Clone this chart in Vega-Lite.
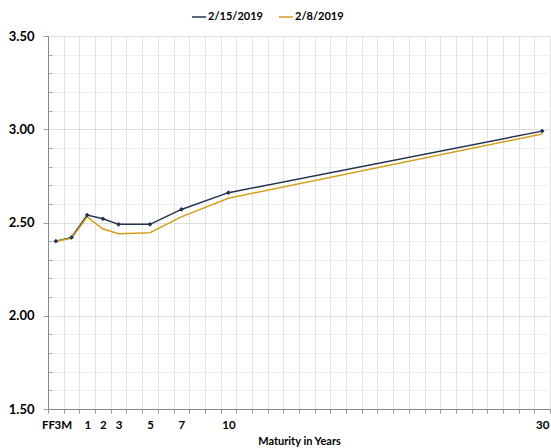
{
  "$schema": "https://vega.github.io/schema/vega-lite/v6.json",
  "width": 502,
  "height": 373,
  "autosize": "none",
  "padding": {"left": 48, "top": 36, "right": 1, "bottom": 39},
  "config": {"view": {"stroke": null}, "font": "Lato"},
  "data": {
    "values": [
      {"tenor": "FF", "m": -1, "date": "2/15/2019", "rate": 2.40},
      {"tenor": "3M", "m": 0, "date": "2/15/2019", "rate": 2.42},
      {"tenor": "1", "m": 1, "date": "2/15/2019", "rate": 2.54},
      {"tenor": "2", "m": 2, "date": "2/15/2019", "rate": 2.52},
      {"tenor": "3", "m": 3, "date": "2/15/2019", "rate": 2.49},
      {"tenor": "5", "m": 5, "date": "2/15/2019", "rate": 2.49},
      {"tenor": "7", "m": 7, "date": "2/15/2019", "rate": 2.57},
      {"tenor": "10", "m": 10, "date": "2/15/2019", "rate": 2.66},
      {"tenor": "30", "m": 30, "date": "2/15/2019", "rate": 2.99},
      {"tenor": "FF", "m": -1, "date": "2/8/2019", "rate": 2.40},
      {"tenor": "3M", "m": 0, "date": "2/8/2019", "rate": 2.415},
      {"tenor": "1", "m": 1, "date": "2/8/2019", "rate": 2.53},
      {"tenor": "2", "m": 2, "date": "2/8/2019", "rate": 2.465},
      {"tenor": "3", "m": 3, "date": "2/8/2019", "rate": 2.44},
      {"tenor": "5", "m": 5, "date": "2/8/2019", "rate": 2.445},
      {"tenor": "7", "m": 7, "date": "2/8/2019", "rate": 2.53},
      {"tenor": "10", "m": 10, "date": "2/8/2019", "rate": 2.63},
      {"tenor": "30", "m": 30, "date": "2/8/2019", "rate": 2.975}
    ]
  },
  "layer": [
    {
      "transform": [{"filter": "datum.date == '2/8/2019'"}],
      "mark": {"type": "point", "opacity": 0},
      "encoding": {
        "x": {
          "field": "m", "type": "quantitative",
          "scale": {"domain": [-1.5, 30.5], "nice": false, "zero": false},
          "axis": {
            "orient": "bottom",
            "values": [-1.5,-0.5,0.5,1.5,2.5,3.5,4.5,5.5,6.5,7.5,8.5,9.5,10.5,11.5,12.5,13.5,14.5,15.5,16.5,17.5,18.5,19.5,20.5,21.5,22.5,23.5,24.5,25.5,26.5,27.5,28.5,29.5,30.5],
            "labels": false, "grid": true, "gridColor": "#e4e4e4", "gridWidth": 1,
            "tickSize": 4, "tickColor": "#999999", "domainColor": "#888888", "title": null
          }
        },
        "y": {
          "field": "rate", "type": "quantitative",
          "scale": {"domain": [1.5, 3.5], "nice": false, "zero": false},
          "axis": {
            "orient": "left",
            "values": [1.6,1.7,1.8,1.9,2.1,2.2,2.3,2.4,2.6,2.7,2.8,2.9,3.1,3.2,3.3,3.4],
            "labels": false, "grid": true, "gridColor": "#efefef",
            "tickSize": -4, "tickColor": "#aaaaaa", "domain": false, "title": null
          }
        }
      }
    },
    {
      "mark": {"type": "line", "strokeWidth": 1.5},
      "encoding": {
        "x": {
          "field": "m", "type": "quantitative",
          "scale": {"domain": [-1.5, 30.5], "nice": false, "zero": false},
          "axis": {
            "orient": "bottom",
            "values": [-1.08, 0, 1, 2, 3, 5, 7, 10, 30],
            "labelExpr": "datum.value < -1 ? 'FF' : datum.value == 0 ? '3M' : datum.label",
            "labelAlign": {"condition": {"test": "datum.value <= 0", "value": "right"}, "value": "center"},
            "grid": false, "ticks": false, "domain": false,
            "labelFont": "Lato", "labelFontWeight": "bold", "labelFontSize": 11.5, "labelColor": "#000000",
            "labelPadding": 10, "labelOverlap": false,
            "title": "Maturity in Years", "titleFont": "Lato", "titleFontSize": 11, "titleFontWeight": "bold",
            "titleColor": "#000000", "titlePadding": 5
          }
        },
        "y": {
          "field": "rate", "type": "quantitative",
          "scale": {"domain": [1.5, 3.5], "nice": false, "zero": false},
          "axis": {
            "orient": "left",
            "values": [1.5, 2, 2.5, 3, 3.5],
            "format": ".2f",
            "grid": true, "gridColor": "#dddddd",
            "tickSize": 5, "tickColor": "#999999", "domainColor": "#888888",
            "labelFont": "Lato", "labelFontWeight": "bold", "labelFontSize": 13, "labelColor": "#000000",
            "labelPadding": 9, "title": null
          }
        },
        "color": {
          "field": "date", "type": "nominal",
          "scale": {"domain": ["2/15/2019", "2/8/2019"], "range": ["#24324f", "#d4a01c"]},
          "legend": {
            "orient": "none", "legendX": 143, "legendY": -27, "direction": "horizontal",
            "title": null, "symbolType": "stroke", "symbolSize": 200, "symbolStrokeWidth": 1.5,
            "labelFont": "Lato", "labelFontSize": 11, "labelFontWeight": "bold", "labelColor": "#000000",
            "columnPadding": 12, "labelOffset": 1
          }
        }
      }
    },
    {
      "transform": [{"filter": "datum.date == '2/15/2019'"}],
      "mark": {"type": "point", "shape": "diamond", "filled": true, "size": 22, "color": "#24324f", "opacity": 1},
      "encoding": {
        "x": {"field": "m", "type": "quantitative", "axis": null},
        "y": {"field": "rate", "type": "quantitative", "axis": null}
      }
    }
  ],
  "resolve": {"axis": {"x": "independent", "y": "independent"}}
}
